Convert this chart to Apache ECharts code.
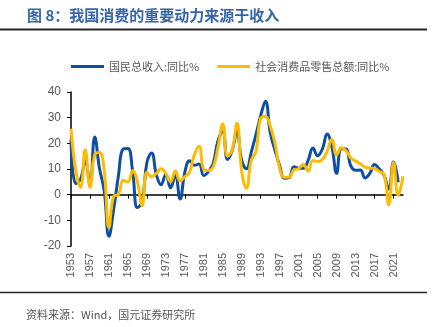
<!DOCTYPE html>
<html>
<head>
<meta charset="utf-8">
<script src="https://cdn.jsdelivr.net/npm/echarts@6/dist/echarts.min.js"></script>
<style>
  html, body { margin: 0; padding: 0; background: #fff; }
  #chart { width: 436px; height: 327px; }
</style>
</head>
<body>
<div id="chart"></div>
<script>
// Years on the category axis
const years = [];
for (let y = 1953; y <= 2023; y++) years.push(String(y));

// 国民总收入 同比 (%), 1953–2022
const gniYoY = [
  21.4, 4.3, 6.0, 13.1, 3.9, 22.5, 10.3, 1.6, -16.2, -5.7,
  7.4, 17.8, 18.0, 8.9, -5.0, -2.8, 12.5, 16.2, 7.8, 3.9,
  8.0, 2.6, 7.5, -1.7, 8.7, 13.2, 11.5, 11.9, 7.5, 9.1,
  12.3, 21.0, 24.7, 13.7, 17.3, 24.7, 13.3, 10.1, 16.5, 23.4,
  30.8, 36.4, 24.3, 17.3, 11.3, 6.4, 6.6, 10.9, 10.3, 10.3,
  13.4, 18.2, 15.2, 17.8, 23.6, 18.7, 8.3, 17.9, 17.8, 11.2,
  9.5, 9.6, 6.5, 8.3, 11.8, 10.0, 7.6, 2.2, 12.7, 4.8
];

// 社会消费品零售总额 同比 (%), 1953–2023
const retailYoY = [
  25.7, 9.5, 2.9, 17.5, 2.9, 15.6, 16.4, 9.2, -12.8, -0.6,
  0.1, 5.6, 5.0, 9.3, 5.1, -4.3, 8.7, 7.0, 8.3, 10.1,
  8.2, 5.1, 9.2, 5.4, 7.0, 8.8, 15.5, 18.9, 9.8, 9.4,
  10.9, 18.5, 27.5, 15.0, 17.6, 27.8, 8.9, 2.5, 13.4, 16.8,
  29.8, 30.5, 26.8, 20.1, 10.2, 6.8, 6.8, 9.7, 10.1, 11.8,
  9.1, 13.3, 12.9, 13.7, 16.8, 21.6, 15.5, 18.3, 17.1, 14.3,
  13.1, 12.0, 10.7, 10.4, 10.2, 9.0, 8.0, -3.9, 12.5, -0.2, 7.2
];

const seriesNames = ['国民总收入:同比%', '社会消费品零售总额:同比%'];
const colors = ['#0f4fa3', '#ffbb00'];
const titleText = '图 8：我国消费的重要动力来源于收入';
const sourceText = '资料来源：Wind，国元证券研究所';

const numFont = '"Liberation Sans", Arial, sans-serif';
const cjkFont = '"Noto Sans CJK SC", sans-serif';

const chart = echarts.init(document.getElementById('chart'), null, { renderer: 'canvas' });

chart.setOption({
  animation: false,
  backgroundColor: '#fff',
  color: colors,
  graphic: [
    {
      type: 'text', left: 27, top: 8,
      style: { text: titleText, fontSize: 15, fontWeight: 'bold', fill: '#3565a8', fontFamily: cjkFont }
    },
    {
      type: 'line', shape: { x1: 0, y1: 29.5, x2: 427, y2: 29.5 },
      style: { stroke: '#262626', lineWidth: 2 }
    },
    {
      type: 'line', shape: { x1: 0, y1: 292.5, x2: 427, y2: 292.5 },
      style: { stroke: '#262626', lineWidth: 1.5 }
    },
    {
      type: 'text', left: 26, top: 309,
      style: { text: sourceText, fontSize: 11, fill: '#555', fontFamily: cjkFont }
    }
  ],
  legend: {
    top: 56, left: 66,
    icon: 'rect', itemWidth: 33, itemHeight: 3, itemGap: 18,
    textStyle: { fontSize: 11, color: '#595959', fontFamily: cjkFont },
    data: seriesNames
  },
  grid: { left: 71, right: 33, top: 92, bottom: 81, containLabel: false },
  xAxis: [
    {
      type: 'category', data: years, boundaryGap: false, position: 'bottom',
      axisLine: { show: false, onZero: false },
      axisTick: { show: false },
      axisLabel: {
        interval: 3, rotate: 90, margin: 7,
        fontSize: 11, color: '#595959', fontFamily: numFont
      }
    },
    {
      type: 'category', data: years, boundaryGap: false,
      axisLine: { show: true, onZero: true, lineStyle: { color: '#000', width: 1.5 } },
      axisTick: { show: true, interval: 3, inside: true, length: 4, lineStyle: { color: '#000' } },
      axisLabel: { show: false }
    }
  ],
  yAxis: {
    type: 'value', min: -20, max: 40, interval: 10,
    axisLine: { show: true, lineStyle: { color: '#000', width: 1.5 } },
    axisTick: { show: true, length: 4, lineStyle: { color: '#000' } },
    splitLine: { show: false },
    axisLabel: { fontSize: 12, color: '#595959', margin: 10, fontFamily: numFont }
  },
  series: [
    {
      name: seriesNames[0], type: 'line', xAxisIndex: 0, data: gniYoY,
      smooth: 0.45, showSymbol: false, symbol: 'none',
      lineStyle: { width: 3, color: colors[0] }
    },
    {
      name: seriesNames[1], type: 'line', xAxisIndex: 0, data: retailYoY,
      smooth: 0.45, showSymbol: false, symbol: 'none',
      lineStyle: { width: 3, color: colors[1] }
    }
  ]
});
</script>
</body>
</html>
